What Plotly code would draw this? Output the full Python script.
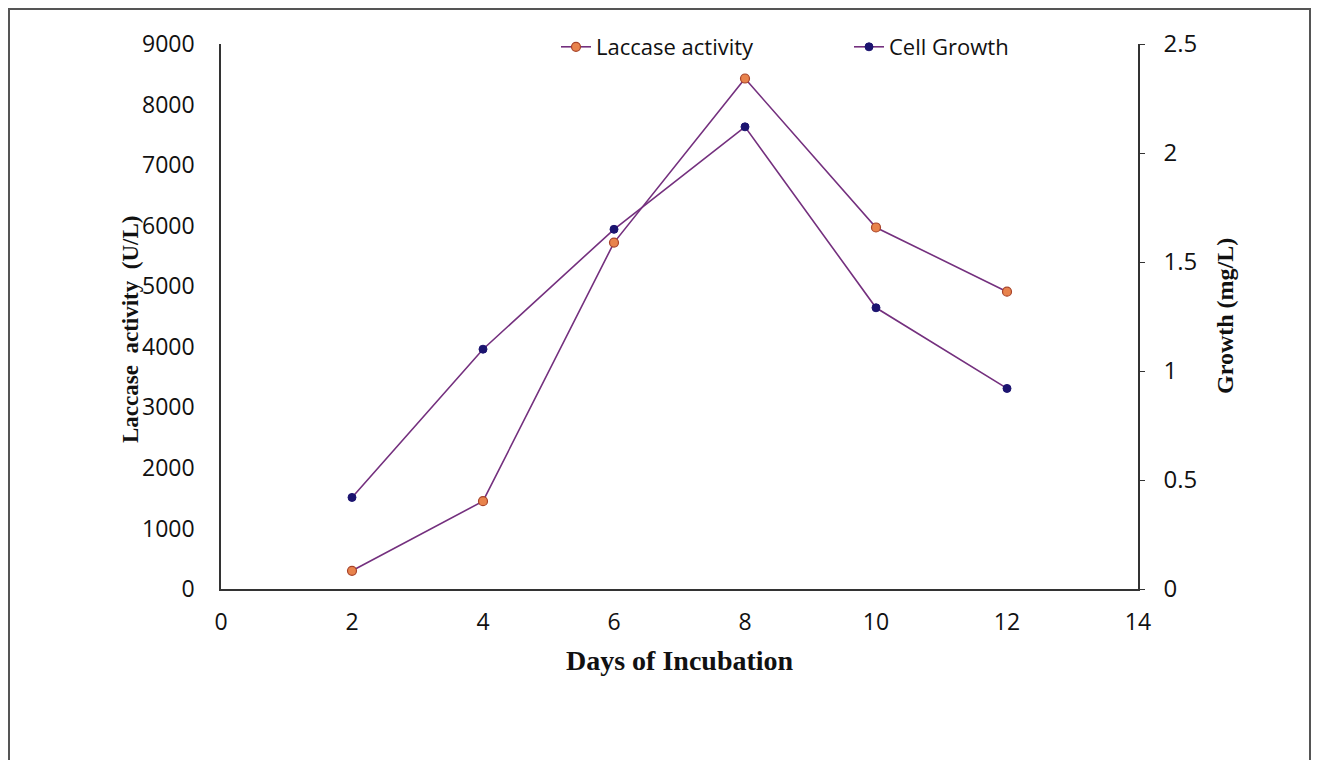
import plotly.graph_objects as go

days = [2, 4, 6, 8, 10, 12]
laccase = [300, 1450, 5720, 8430, 5970, 4910]
growth = [0.42, 1.10, 1.65, 2.12, 1.29, 0.92]

line_col = "#74307E"
OFF = 8  # browser body margin
W, H = 1303, 752
L, R, T, B = 221, 1138, 44, 589  # plot area in screen px

def fx(p):
    return (p - L) / (R - L)

def fy(p):
    return (B - p) / (B - T)

fig = go.Figure()
fig.add_trace(go.Scatter(
    x=days, y=laccase, name="Laccase activity", mode="lines+markers",
    line=dict(color=line_col, width=1.6),
    marker=dict(size=9, color="#E8834C", line=dict(color="#A8442A", width=1.2)),
    yaxis="y", legend="legend"))
fig.add_trace(go.Scatter(
    x=days, y=growth, name="Cell Growth", mode="lines+markers",
    line=dict(color=line_col, width=1.6),
    marker=dict(size=8, color="#1C1470", line=dict(color="#1C1470", width=1)),
    yaxis="y2", legend="legend2"))

sans = "Open Sans, Liberation Sans, sans-serif"
serif = "Liberation Serif, Times New Roman, serif"
tick_font = dict(family=sans, size=23, color="#111")

fig.update_layout(
    width=W, height=H,
    margin=dict(l=L - OFF, r=W - (R - OFF), t=T - OFF, b=H - (B - OFF)),
    paper_bgcolor="white", plot_bgcolor="white",
    xaxis=dict(range=[0, 14], dtick=2, tick0=0, showgrid=False, zeroline=False,
               showline=True, linecolor="#333", linewidth=1.5,
               ticks="", tickfont=tick_font, ticklabelstandoff=12),
    yaxis=dict(range=[0, 9000], dtick=1000, showgrid=False, zeroline=False,
               showline=True, linecolor="#333", linewidth=1.5,
               ticks="", tickfont=tick_font, ticklabelstandoff=20),
    yaxis2=dict(range=[0, 2.5], dtick=0.5, overlaying="y", side="right",
                showgrid=False, zeroline=False, showline=True, linecolor="#333",
                linewidth=1.5, ticks="outside", ticklen=5, tickcolor="#333",
                tickfont=dict(family=sans, size=24, color="#111"),
                ticklabelstandoff=14),
    legend=dict(orientation="h", x=fx(556), y=fy(47), xanchor="left", yanchor="middle",
                font=dict(family=sans, size=22, color="#111"),
                bgcolor="rgba(0,0,0,0)", itemwidth=30),
    legend2=dict(orientation="h", x=fx(849), y=fy(47), xanchor="left", yanchor="middle",
                 font=dict(family=sans, size=22, color="#111"),
                 bgcolor="rgba(0,0,0,0)", itemwidth=30),
    showlegend=True,
)

fig.add_annotation(text="<b>Days of Incubation</b>", xref="paper", yref="paper",
                   x=fx(680), y=fy(660), xanchor="center", yanchor="middle", showarrow=False,
                   font=dict(family=serif, size=28, color="#111"))
fig.add_annotation(text="<b>Laccase  activity  (U/L)</b>", xref="paper", yref="paper",
                   x=fx(131), y=fy(330), xanchor="center", yanchor="middle",
                   showarrow=False, textangle=-90,
                   font=dict(family=serif, size=23, color="#111"))
fig.add_annotation(text="<b>Growth (mg/L)</b>", xref="paper", yref="paper",
                   x=fx(1225), y=fy(316), xanchor="center", yanchor="middle",
                   showarrow=False, textangle=-90,
                   font=dict(family=serif, size=24, color="#111"))

fig.add_shape(type="rect", xref="paper", yref="paper",
              x0=fx(9), x1=fx(1310), y0=fy(790), y1=fy(9),
              line=dict(color="#555", width=2), fillcolor="rgba(0,0,0,0)", layer="below")

fig.write_html("out.html")
